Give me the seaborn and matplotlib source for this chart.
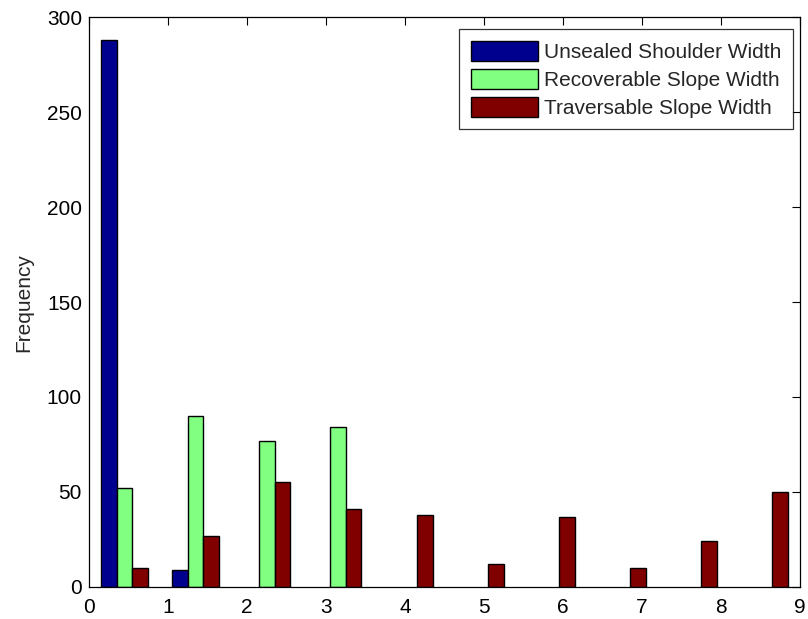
import matplotlib
matplotlib.use("Agg")
import matplotlib.pyplot as plt
import seaborn as sns
import pandas as pd

# bin centres of the histogram (10 bins between 0 and 9)
bin_centres = [0.45, 1.35, 2.25, 3.15, 4.05, 4.95, 5.85, 6.75, 7.65, 8.55]
series_names = ["Unsealed Shoulder Width", "Recoverable Slope Width", "Traversable Slope Width"]
unsealed = [288, 9, 0, 0, 0, 0, 0, 0, 0, 0]
recoverable = [52, 90, 77, 84, 0, 0, 0, 0, 0, 0]
traversable = [10, 27, 55, 41, 38, 12, 37, 10, 24, 50]
colours = ["#00008F", "#80FF80", "#800000"]

rows = []
for name, vals in zip(series_names, [unsealed, recoverable, traversable]):
    for c, v in zip(bin_centres, vals):
        rows.append({"x": c, "count": v, "serie": name})
df = pd.DataFrame(rows)
df = df[df["count"] > 0]  # empty bins draw nothing

sns.set_style("white")
plt.rcParams["font.family"] = ["Liberation Sans", "DejaVu Sans"]

fig = plt.figure(figsize=(8.08, 6.19), dpi=100)
ax = fig.add_axes([0.110, 0.052, 0.880, 0.920])

sns.barplot(data=df, x="x", y="count", hue="serie", hue_order=series_names,
            palette=colours, native_scale=True, width=2/3, dodge=True,
            errorbar=None, edgecolor="black", linewidth=1, saturation=1, ax=ax)

ax.set_xlim(0, 9)
ax.set_ylim(0, 300)
ax.set_xticks(range(0, 10))
ax.set_yticks(range(0, 301, 50))
ax.set_xlabel("")
ax.set_ylabel("Frequency", fontsize=15)
ax.yaxis.set_label_coords(-0.078, 0.5)
ax.tick_params(direction="in", top=True, right=True, labelsize=15, length=5.5,
               width=0.8, colors="black")
ax.tick_params(axis="x", pad=8)
ax.tick_params(axis="y", pad=5)
for s in ax.spines.values():
    s.set_color("black")
    s.set_linewidth(0.9)

leg = ax.legend(loc="upper right", bbox_to_anchor=(0.9897, 0.979), borderaxespad=0,
                fontsize=15, frameon=True, fancybox=False, edgecolor="black",
                handlelength=3.2, handleheight=1.1, borderpad=0.55,
                labelspacing=0.33, handletextpad=0.3)
leg.get_frame().set_linewidth(0.9)

plt.savefig("out.png", dpi=100)
